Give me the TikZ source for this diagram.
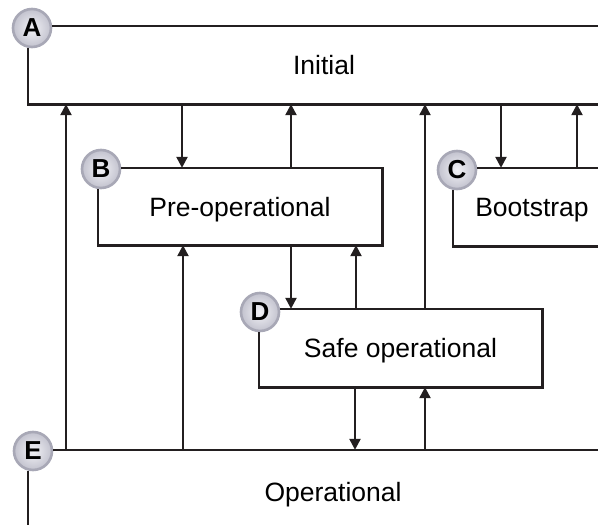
\documentclass[tikz,border=0pt]{standalone}
\usepackage{fontspec}
\setmainfont{Liberation Sans}
\usetikzlibrary{arrows.meta}
\definecolor{ink}{HTML}{231F20}
\definecolor{ringc}{HTML}{A8A8B6}
\definecolor{discin}{HTML}{F2F2F6}
\definecolor{discout}{HTML}{C2C2CE}
\tikzset{
  boxarea/.style={draw=none, inner sep=0pt, text height=19pt, text depth=0pt,
    font=\fontsize{26.5}{30}\selectfont},
  outline/.style={draw=ink, line width=2.6pt, line join=miter},
  arr/.style={draw=ink, line width=2.4pt, -{Triangle[width=11pt,length=11pt]}},
  badge/.style={circle, minimum size=38pt, inner sep=0pt, draw=ringc, line width=2.6pt,
    inner color=discin, outer color=discout, text=black,
    font=\bfseries\fontsize{26}{28}\selectfont},
}
\begin{document}
\begin{tikzpicture}[x=1pt, y=-1pt]
\useasboundingbox (0,0) rectangle (598,525);
% box areas (text)
\node[boxarea, minimum width=592pt, minimum height=78pt] (A) at (324,65) {Initial};
\node[boxarea, minimum width=284pt, minimum height=77pt] (B) at (240,206.5) {Pre-operational};
\node[boxarea, minimum width=158pt, minimum height=78pt] (C) at (532,207) {Bootstrap};
\node[boxarea, minimum width=283pt, minimum height=78pt] (D) at (400.5,348) {Safe operational};
\node[boxarea, minimum width=610pt, minimum height=84pt] (E) at (333,492) {Operational};
% badges
\node[badge] (cA) at (32,28) {A};
\node[badge] (cB) at (101,169) {B};
\node[badge] (cC) at (457,170) {C};
\node[badge] (cD) at (260,312) {D};
\node[badge] (cE) at (33,451) {E};
% outlines
\draw[outline] (cA.east |- A.north) -- (A.north east);
\draw[outline] (cA.south -| A.west) -- (A.south west) -- (A.south east);
\draw[outline] (cB.east |- B.north) -- (B.north east) -- (B.south east) -- (B.south west) -- (cB.south -| B.west);
\draw[outline] (cC.east |- C.north) -- (C.north east);
\draw[outline] (cC.south -| C.west) -- (C.south west) -- (C.south east);
\draw[outline] (cD.east |- D.north) -- (D.north east) -- (D.south east) -- (D.south west) -- (cD.south -| D.west);
\draw[outline] (cE.east |- E.north) -- (E.north east);
\draw[outline] (cE.south -| E.west) -- (E.south west);
% arrows
\draw[arr] (E.north -| 66,0) -- (A.south -| 66,0);
\draw[arr] (A.south -| 182,0) -- (B.north -| 182,0);
\draw[arr] (B.north -| 291,0) -- (A.south -| 291,0);
\draw[arr] (E.north -| 183,0) -- (B.south -| 183,0);
\draw[arr] (B.south -| 291,0) -- (D.north -| 291,0);
\draw[arr] (D.north -| 356,0) -- (B.south -| 356,0);
\draw[arr] (D.north -| 425,0) -- (A.south -| 425,0);
\draw[arr] (A.south -| 501,0) -- (C.north -| 501,0);
\draw[arr] (C.north -| 577,0) -- (A.south -| 577,0);
\draw[arr] (D.south -| 355,0) -- (E.north -| 355,0);
\draw[arr] (E.north -| 425,0) -- (D.south -| 425,0);
\end{tikzpicture}
\end{document}
